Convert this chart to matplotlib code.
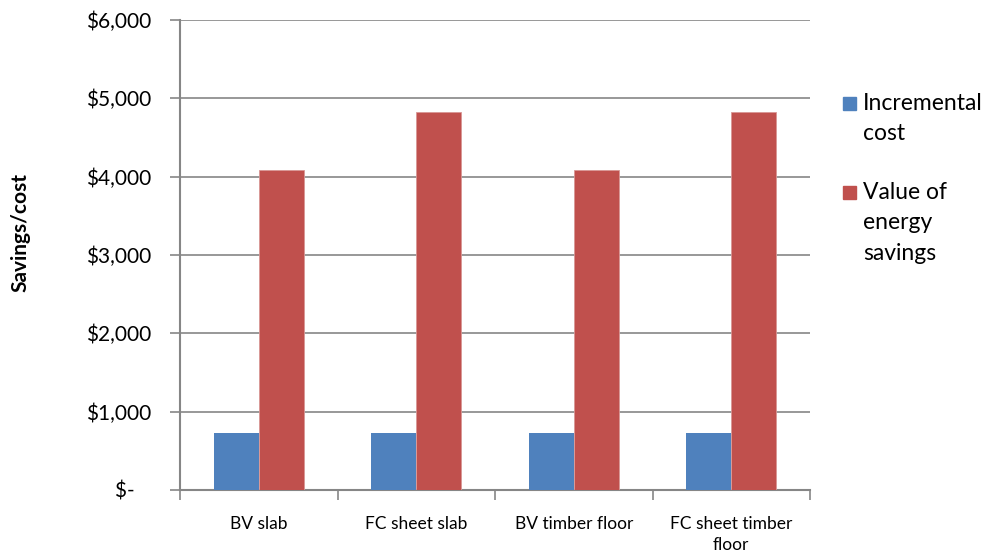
import matplotlib
matplotlib.use("Agg")
import matplotlib.pyplot as plt
from matplotlib.patches import Rectangle
import numpy as np

plt.rcParams['font.family'] = ['Lato', 'DejaVu Sans']

categories = ["BV slab", "FC sheet slab", "BV timber floor", "FC sheet timber\nfloor"]
incremental_cost = [730, 730, 730, 730]
energy_savings_value = [4090, 4820, 4090, 4820]
series_names = ["Incremental\ncost", "Value of\nenergy\nsavings"]
series_colors = ["#4F81BD", "#C0504D"]
y_ticks = [0, 1000, 2000, 3000, 4000, 5000, 6000]
y_tick_labels = ["$-   ", "$1,000", "$2,000", "$3,000", "$4,000", "$5,000", "$6,000"]

fig = plt.figure(figsize=(9.9, 5.52), dpi=100)
ax = fig.add_axes([180/990, 1-490/552, 630/990, 470/552])

x = np.arange(len(categories))
w = 1/3.5
ax.bar(x - w/2, incremental_cost, width=w, color=series_colors[0], zorder=3)
ax.bar(x + w/2, energy_savings_value, width=w, color=series_colors[1],
       edgecolor="#D99795", linewidth=0.6, zorder=3)

grey = "#868686"
ax.set_xlim(-0.5, len(categories) - 0.5)
ax.set_ylim(0, 6000)
ax.set_yticks(y_ticks)
ax.set_yticklabels(y_tick_labels, fontsize=15, color="black")
ax.yaxis.grid(True, color=grey, linewidth=1.2, zorder=0)
ax.tick_params(axis='y', length=7, width=1.2, color=grey, pad=14)

# category boundaries as major ticks, labels centred at minor positions
ax.set_xticks(np.arange(len(categories) + 1) - 0.5)
ax.set_xticklabels([])
ax.tick_params(axis='x', which='major', length=7, width=1.2, color=grey)
ax.set_xticks(x, minor=True)
ax.set_xticklabels(categories, minor=True, fontsize=12.5, linespacing=1.35)
ax.tick_params(axis='x', which='minor', length=0, pad=19)

for side in ("top", "right"):
    ax.spines[side].set_visible(False)
for side in ("left", "bottom"):
    ax.spines[side].set_color(grey)
    ax.spines[side].set_linewidth(1.5)

fig.text(20/990, 1-232/552, "Savings/cost", rotation=90, fontsize=15,
         fontweight="bold", ha="center", va="center")

# legend entries
legend_rows = [(103, series_names[0], series_colors[0]),
               (192, series_names[1], series_colors[1])]
for y_px, label, color in legend_rows:
    fig.patches.append(Rectangle((843/990, 1-(y_px+7)/552), 13/990, 13/552,
                                 transform=fig.transFigure, color=color))
    fig.text(863/990, 1-(y_px-10)/552, label, fontsize=16.5, ha="left", va="top",
             linespacing=1.55)

fig.savefig("out.png", dpi=100)
